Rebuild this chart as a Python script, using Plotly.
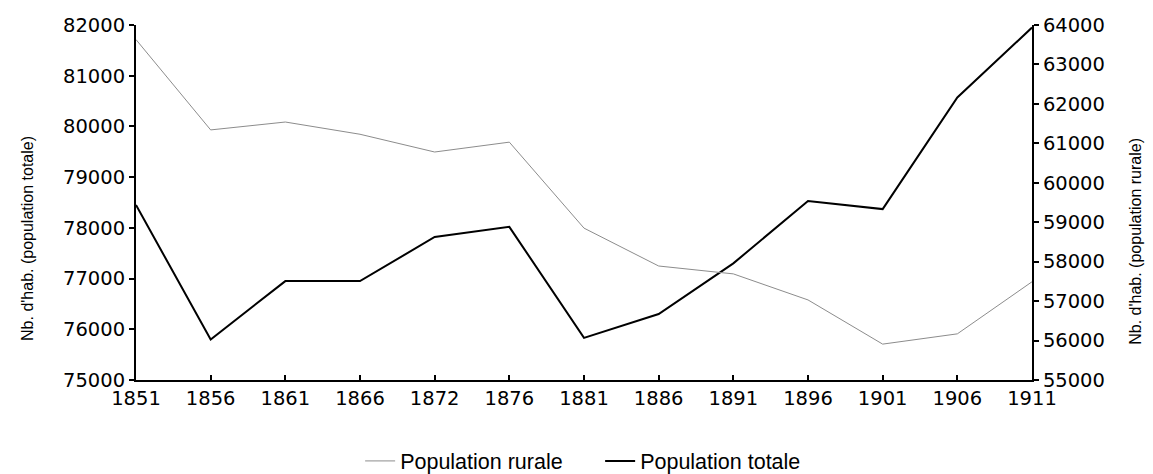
import plotly.graph_objects as go

years = ["1851", "1856", "1861", "1866", "1872", "1876", "1881",
         "1886", "1891", "1896", "1901", "1906", "1911"]
pop_totale = [78450, 75800, 76950, 76950, 77820, 78020, 75830,
              76300, 77300, 78530, 78370, 80570, 81950]
pop_rurale = [63630, 61340, 61540, 61230, 60780, 61030, 58850,
              57890, 57690, 57030, 55910, 56170, 57490]
left_ticks = [75000, 76000, 77000, 78000, 79000, 80000, 81000, 82000]
right_ticks = [55000, 56000, 57000, 58000, 59000, 60000, 61000, 62000, 63000, 64000]
left_title = "Nb. d'hab. (population totale)"
right_title = "Nb. d'hab. (population rurale)"

TICKFONT = dict(family="DejaVu Sans, Liberation Sans, sans-serif", size=19.5, color="black")
TITLEFONT = dict(family="Liberation Sans, Arial, sans-serif", size=16, color="black")
LEGENDFONT = dict(family="Liberation Sans, Arial, sans-serif", size=21.5, color="black")

fig = go.Figure()
fig.add_trace(go.Scatter(x=years, y=pop_rurale, name="Population rurale",
                         mode="lines", line=dict(color="#8c8c8c", width=1),
                         yaxis="y2"))
fig.add_trace(go.Scatter(x=years, y=pop_totale, name="Population totale",
                         mode="lines", line=dict(color="black", width=2),
                         yaxis="y"))

# page body has an 8px margin, so the figure is sized to fit the window
fig.update_layout(
    width=1145, height=466,
    margin=dict(l=128, r=121, t=17, b=94, autoexpand=False),
    paper_bgcolor="white", plot_bgcolor="white",
    font=dict(family="Liberation Sans, Arial, sans-serif", size=20, color="black"),
    showlegend=True,
    legend=dict(orientation="h", x=0.518, xanchor="center", xref="paper",
                y=-0.228, yanchor="middle", yref="paper", font=LEGENDFONT,
                entrywidth=195),
    xaxis=dict(type="category", range=[0, 12], showgrid=False,
               showline=True, linecolor="black", linewidth=2,
               ticks="inside", ticklen=5, tickwidth=1.5, tickcolor="black",
               tickfont=TICKFONT),
    yaxis=dict(range=[75000, 82000], tickvals=left_ticks,
               ticktext=[str(v) for v in left_ticks],
               showgrid=False, zeroline=False,
               showline=True, linecolor="black", linewidth=2,
               ticks="outside", ticklen=5, tickwidth=1.5, tickcolor="black",
               tickfont=TICKFONT),
    yaxis2=dict(range=[55000, 64000], tickvals=right_ticks,
                ticktext=[str(v) for v in right_ticks],
                overlaying="y", side="right",
                showgrid=False, zeroline=False,
                showline=True, linecolor="black", linewidth=2,
                ticks="outside", ticklen=5, tickwidth=1.5, tickcolor="black",
                tickfont=TICKFONT),
    annotations=[
        dict(text=left_title, textangle=-90, xref="paper", yref="paper",
             x=-0.1217, y=0.40, xanchor="center", yanchor="middle",
             showarrow=False, font=TITLEFONT),
        dict(text=right_title, textangle=-90, xref="paper", yref="paper",
             x=1.116, y=0.392, xanchor="center", yanchor="middle",
             showarrow=False, font=TITLEFONT),
    ],
)

fig.write_html("out.html")
